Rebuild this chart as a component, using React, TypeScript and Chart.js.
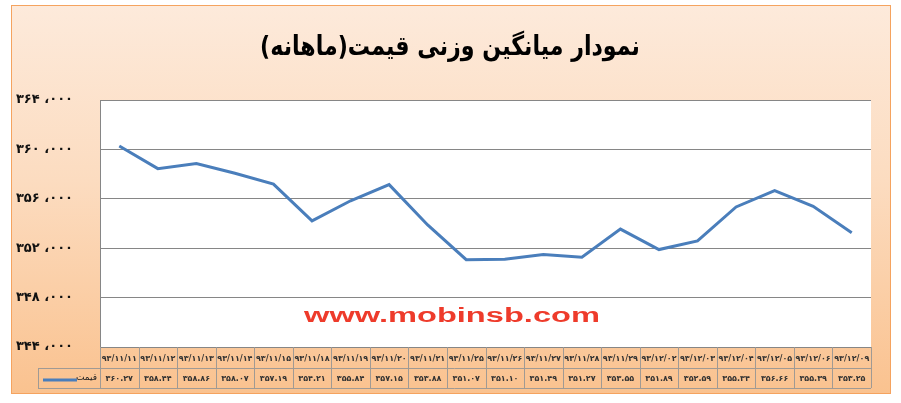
import React, { useEffect, useRef } from 'react';
import { Chart, registerables } from 'chart.js';

Chart.register(...registerables);

const titleText = 'نمودار میانگین وزنی قیمت(ماهانه)';
const watermarkText = 'www.mobinsb.com';
const seriesName = 'قیمت';

const categories = [
  '۹۳/۱۱/۱۱', '۹۳/۱۱/۱۲', '۹۳/۱۱/۱۳', '۹۳/۱۱/۱۴', '۹۳/۱۱/۱۵',
  '۹۳/۱۱/۱۸', '۹۳/۱۱/۱۹', '۹۳/۱۱/۲۰', '۹۳/۱۱/۲۱', '۹۳/۱۱/۲۵',
  '۹۳/۱۱/۲۶', '۹۳/۱۱/۲۷', '۹۳/۱۱/۲۸', '۹۳/۱۱/۲۹', '۹۳/۱۲/۰۲',
  '۹۳/۱۲/۰۳', '۹۳/۱۲/۰۴', '۹۳/۱۲/۰۵', '۹۳/۱۲/۰۶', '۹۳/۱۲/۰۹',
];

const prices = [
  360.27, 358.44, 358.86, 358.07, 357.19,
  354.21, 355.84, 357.15, 353.88, 351.07,
  351.10, 351.49, 351.27, 353.55, 351.89,
  352.59, 355.34, 356.66, 355.39, 353.25,
];

const priceLabels = [
  '۳۶۰.۲۷', '۳۵۸.۴۴', '۳۵۸.۸۶', '۳۵۸.۰۷', '۳۵۷.۱۹',
  '۳۵۴.۲۱', '۳۵۵.۸۴', '۳۵۷.۱۵', '۳۵۳.۸۸', '۳۵۱.۰۷',
  '۳۵۱.۱۰', '۳۵۱.۴۹', '۳۵۱.۲۷', '۳۵۳.۵۵', '۳۵۱.۸۹',
  '۳۵۲.۵۹', '۳۵۵.۳۴', '۳۵۶.۶۶', '۳۵۵.۳۹', '۳۵۳.۲۵',
];

const yTickValues = [344, 348, 352, 356, 360, 364];
const yTickLabels = ['۳۴۴ ،۰۰۰', '۳۴۸ ،۰۰۰', '۳۵۲ ،۰۰۰', '۳۵۶ ،۰۰۰', '۳۶۰ ،۰۰۰', '۳۶۴ ،۰۰۰'];

const LINE_COLOR = '#4a7ebb';
const GRID_COLOR = '#868686';
const TABLE_COLOR = '#a09a94';
const FA_FONT = '"DejaVu Sans", "Noto Sans", sans-serif';

const backgroundPlugin = {
  id: 'bgPlugin',
  beforeDraw(chart: any) {
    const { ctx, width, height, chartArea } = chart;
    ctx.save();
    ctx.fillStyle = '#ffffff';
    ctx.fillRect(0, 0, width, height);
    const x0 = 11, y0 = 5, x1 = 891, y1 = 394;
    const g = ctx.createLinearGradient(0, y0, 0, y1);
    g.addColorStop(0, '#fdeadb');
    g.addColorStop(0.45, '#fcdcc0');
    g.addColorStop(1, '#fac28f');
    ctx.fillStyle = g;
    ctx.fillRect(x0, y0, x1 - x0, y1 - y0);
    ctx.strokeStyle = '#f5a35f';
    ctx.lineWidth = 1;
    ctx.strokeRect(x0 + 0.5, y0 + 0.5, x1 - x0 - 1, y1 - y0 - 1);
    ctx.fillStyle = '#ffffff';
    ctx.fillRect(chartArea.left, chartArea.top, chartArea.right - chartArea.left, chartArea.bottom - chartArea.top);
    ctx.restore();
  },
  afterDraw(chart: any) {
    const { ctx, chartArea } = chart;
    ctx.save();
    // title
    ctx.save();
    ctx.direction = 'rtl';
    ctx.fillStyle = '#000000';
    ctx.font = `bold 27px ${FA_FONT}`;
    ctx.textAlign = 'center';
    ctx.textBaseline = 'middle';
    ctx.translate(450, 48);
    ctx.scale(0.82, 1);
    ctx.fillText(titleText, 0, 0);
    ctx.restore();

    // watermark
    ctx.save();
    ctx.fillStyle = '#ee3b2b';
    ctx.font = 'bold 20px "Liberation Sans", Arial, sans-serif';
    ctx.textAlign = 'center';
    ctx.textBaseline = 'alphabetic';
    ctx.translate(452, 322);
    ctx.scale(1.63, 1);
    ctx.fillText(watermarkText, 0, 0);
    ctx.restore();

    // data table
    const n = categories.length;
    const left = chartArea.left;
    const right = chartArea.right;
    const cw = (right - left) / n;
    const r0 = chartArea.bottom;
    const r1 = r0 + 21;
    const r2 = r1 + 20;
    const legLeft = 38;

    ctx.strokeStyle = TABLE_COLOR;
    ctx.lineWidth = 1;
    ctx.beginPath();
    ctx.moveTo(legLeft, r1 + 0.5);
    ctx.lineTo(right, r1 + 0.5);
    ctx.moveTo(legLeft, r2 + 0.5);
    ctx.lineTo(right, r2 + 0.5);
    ctx.moveTo(legLeft + 0.5, r1);
    ctx.lineTo(legLeft + 0.5, r2);
    for (let i = 0; i <= n; i++) {
      const x = Math.round(left + i * cw) + 0.5;
      ctx.moveTo(x, r0);
      ctx.lineTo(x, r2);
    }
    ctx.stroke();

    ctx.fillStyle = '#333333';
    ctx.font = `bold 8px ${FA_FONT}`;
    ctx.textAlign = 'center';
    ctx.textBaseline = 'middle';
    for (let i = 0; i < n; i++) {
      const cx = left + (i + 0.5) * cw;
      ctx.fillText(categories[i], cx, (r0 + r1) / 2 + 1);
      ctx.fillText(priceLabels[i], cx, (r1 + r2) / 2 + 1);
    }

    // legend key
    ctx.strokeStyle = LINE_COLOR;
    ctx.lineWidth = 3;
    ctx.beginPath();
    ctx.moveTo(43, (r1 + r2) / 2 + 2);
    ctx.lineTo(77, (r1 + r2) / 2 + 2);
    ctx.stroke();
    ctx.direction = 'rtl';
    ctx.fillStyle = '#222222';
    ctx.font = `9px ${FA_FONT}`;
    ctx.textAlign = 'right';
    ctx.fillText(seriesName, 97, (r1 + r2) / 2);
    ctx.restore();
  },
};

export default function App() {
  const ref = useRef<HTMLCanvasElement | null>(null);
  useEffect(() => {
    if (!ref.current) return;
    const chart = new Chart(ref.current, {
      type: 'line',
      data: {
        labels: categories,
        datasets: [
          {
            label: seriesName,
            data: prices,
            borderColor: LINE_COLOR,
            backgroundColor: LINE_COLOR,
            borderWidth: 3,
            pointRadius: 0,
            tension: 0,
            fill: false,
          },
        ],
      },
      options: {
        animation: false,
        responsive: false,
        devicePixelRatio: 1,
        layout: { padding: { left: 0, right: 30, top: 100, bottom: 0 } },
        plugins: {
          legend: { display: false },
          title: { display: false },
          tooltip: { enabled: false },
        },
        scales: {
          x: {
            type: 'category',
            offset: true,
            grid: { display: false },
            border: { display: false },
            ticks: { display: false },
            afterFit: (scale: any) => {
              scale.height = 56;
            },
          },
          y: {
            min: 344,
            max: 364,
            afterBuildTicks: (scale: any) => {
              scale.ticks = yTickValues.map((v) => ({ value: v }));
            },
            grid: { color: GRID_COLOR, lineWidth: 1, drawTicks: false },
            border: { display: true, color: GRID_COLOR, width: 1 },
            ticks: {
              padding: 27,
              color: '#111111',
              font: { family: FA_FONT, size: 13, weight: 'bold' },
              callback: (value: any) => {
                const idx = yTickValues.indexOf(Number(value));
                return idx >= 0 ? yTickLabels[idx] : '';
              },
            },
            afterFit: (scale: any) => {
              scale.width = 100;
            },
          },
        },
      },
      plugins: [backgroundPlugin],
    } as any);
    return () => chart.destroy();
  }, []);
  return (
    <div style={{ position: 'fixed', left: 0, top: 0, width: 901, height: 403 }}>
      <canvas ref={ref} width={901} height={403} style={{ display: 'block' }} />
    </div>
  );
}
